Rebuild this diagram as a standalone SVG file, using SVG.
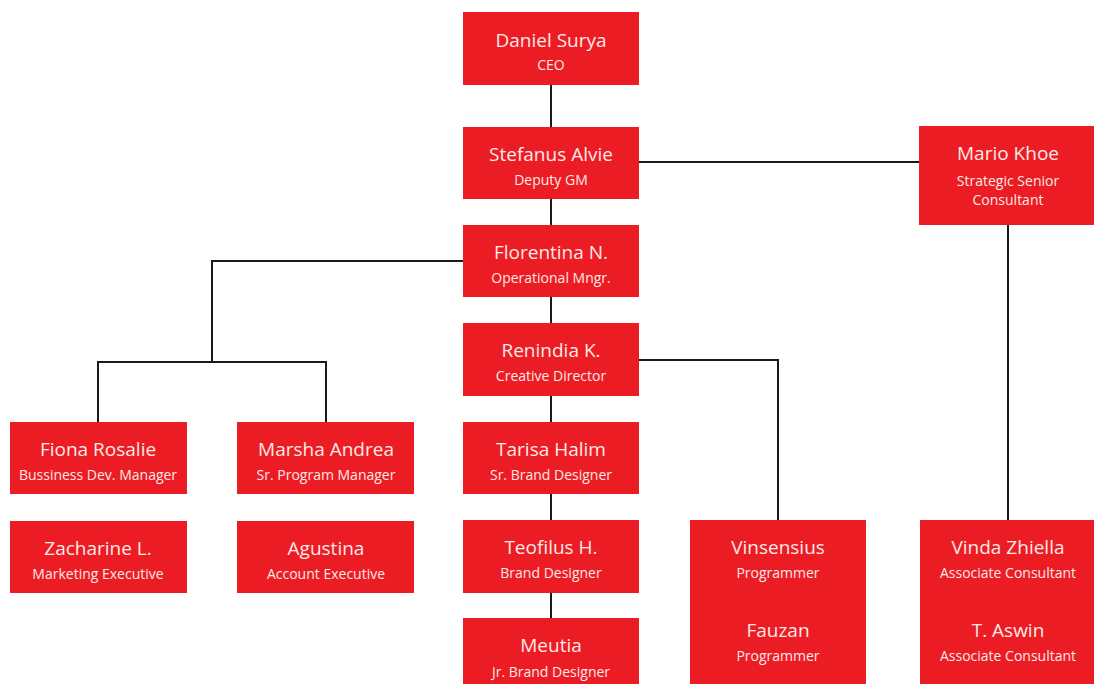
<svg xmlns="http://www.w3.org/2000/svg" width="1094" height="684" viewBox="0 0 1094 684">
<style>
.box{fill:#ec1c24}
.n{font-family:"Open Sans","Noto Sans",sans-serif;font-size:19px;fill:#fde9e6;text-anchor:middle}
.t{font-family:"Open Sans","Noto Sans",sans-serif;font-size:14px;fill:#fde9e6;text-anchor:middle}
.c{fill:none;stroke:#1a1a1a;stroke-width:2}
</style>
<rect width="1094" height="684" fill="#ffffff"/>
<g id="connectors">
<path class="c" d="M551 85V127"/>
<path class="c" d="M639 162H919"/>
<path class="c" d="M551 199V225"/>
<path class="c" d="M463 261H212V362"/>
<path class="c" d="M98 422V362H326V422"/>
<path class="c" d="M551 297V323"/>
<path class="c" d="M639 360H778V520"/>
<path class="c" d="M551 396V422"/>
<path class="c" d="M551 494V520"/>
<path class="c" d="M551 593V618"/>
<path class="c" d="M1008 225V520"/>
</g>
<g id="daniel"><rect class="box" x="463" y="12" width="176" height="73"/><text class="n" x="551" y="47">Daniel Surya</text><text class="t" x="551" y="70">CEO</text></g>
<g id="stefanus"><rect class="box" x="463" y="127" width="176" height="72"/><text class="n" x="551" y="161">Stefanus Alvie</text><text class="t" x="551" y="185">Deputy GM</text></g>
<g id="mario"><rect class="box" x="919" y="126" width="175" height="99"/><text class="n" x="1008" y="160">Mario Khoe</text><text class="t" x="1008" y="186">Strategic Senior</text><text class="t" x="1008" y="205">Consultant</text></g>
<g id="florentina"><rect class="box" x="463" y="225" width="176" height="72"/><text class="n" x="551" y="259">Florentina N.</text><text class="t" x="551" y="283">Operational Mngr.</text></g>
<g id="renindia"><rect class="box" x="463" y="323" width="176" height="73"/><text class="n" x="551" y="357">Renindia K.</text><text class="t" x="551" y="381">Creative Director</text></g>
<g id="fiona"><rect class="box" x="10" y="422" width="177" height="72"/><text class="n" x="98" y="456">Fiona Rosalie</text><text class="t" x="98" y="480">Bussiness Dev. Manager</text></g>
<g id="marsha"><rect class="box" x="237" y="422" width="177" height="72"/><text class="n" x="326" y="456">Marsha Andrea</text><text class="t" x="326" y="480">Sr. Program Manager</text></g>
<g id="tarisa"><rect class="box" x="463" y="422" width="176" height="72"/><text class="n" x="551" y="456">Tarisa Halim</text><text class="t" x="551" y="480">Sr. Brand Designer</text></g>
<g id="zacharine"><rect class="box" x="10" y="521" width="177" height="72"/><text class="n" x="98" y="555">Zacharine L.</text><text class="t" x="98" y="579">Marketing Executive</text></g>
<g id="agustina"><rect class="box" x="237" y="521" width="177" height="72"/><text class="n" x="326" y="555">Agustina</text><text class="t" x="326" y="579">Account Executive</text></g>
<g id="teofilus"><rect class="box" x="463" y="520" width="176" height="73"/><text class="n" x="551" y="554">Teofilus H.</text><text class="t" x="551" y="578">Brand Designer</text></g>
<g id="meutia"><rect class="box" x="463" y="618" width="176" height="70"/><text class="n" x="551" y="652">Meutia</text><text class="t" x="551" y="677">Jr. Brand Designer</text></g>
<g id="programmers"><rect class="box" x="690" y="520" width="176" height="168"/><text class="n" x="778" y="554">Vinsensius</text><text class="t" x="778" y="578">Programmer</text><text class="n" x="778" y="637">Fauzan</text><text class="t" x="778" y="661">Programmer</text></g>
<g id="consultants"><rect class="box" x="920" y="520" width="174" height="168"/><text class="n" x="1008" y="554">Vinda Zhiella</text><text class="t" x="1008" y="578">Associate Consultant</text><text class="n" x="1008" y="637">T. Aswin</text><text class="t" x="1008" y="661">Associate Consultant</text></g>
</svg>
